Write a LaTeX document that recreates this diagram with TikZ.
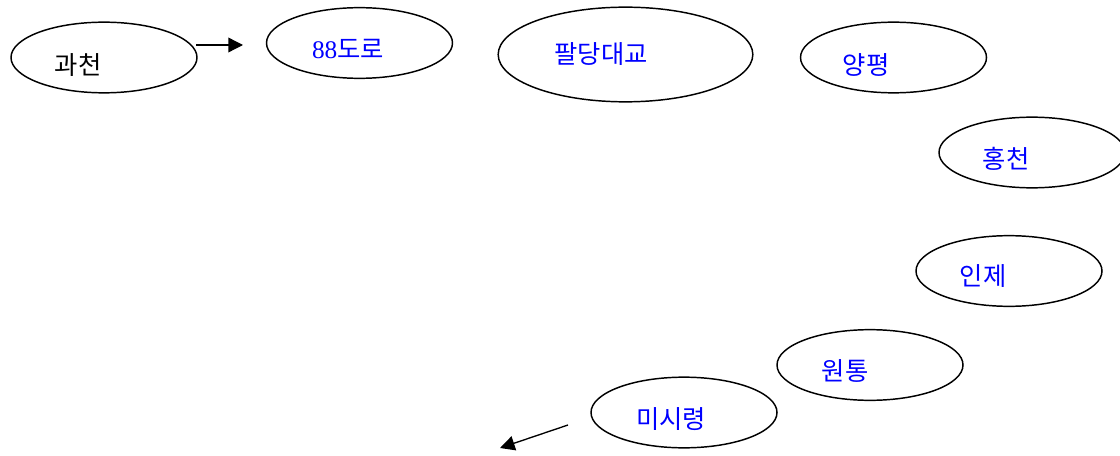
\documentclass[tikz,border=0pt]{standalone}
\usepackage{fontspec}
\setmainfont{Liberation Serif}
\newfontfamily\kor{Noto Sans CJK KR}
\usepackage{tikz}
\usetikzlibrary{arrows.meta,positioning,shapes.geometric,calc}

\tikzset{
    town/.style={draw, ellipse, line width=1.1pt, inner sep=0pt,
        minimum width=139.5pt, minimum height=53pt},
    place/.style={text=blue, inner sep=0pt, font=\kor\fontsize{19}{22}\selectfont},
    route/.style={-{Triangle[length=11pt,width=11pt]}, line width=1pt}
}

\begin{document}
\begin{tikzpicture}[x=0.75pt, y=-0.75pt]
    \useasboundingbox (0,0) rectangle (1120,456);

    % Ellipses
    \node[town] (gwacheon) at (104,57.5) {};
    \node[town] (road88) at (359.5,43) {};
    \node[town, minimum width=191pt, minimum height=71pt] (paldang) at (625.5,54.5) {};
    \node[town] (yangpyeong) at (893.5,57.5) {};
    \node[town] (hongcheon) at (1032,152.5) {};
    \node[town] (inje) at (1009,271) {};
    \node[town] (wontong) at (870,365) {};
    \node[town] (misiryeong) at (684,412.5) {};

    % Place names
    \node[place, text=black] (gwacheonT) at (78,65) {과천};
    \node[place] (road88T) at (348,49) {{\rmfamily 88}도로};
    \node[place] (paldangT) at (601,54) {팔당대교};
    \node[place] (yangpyeongT) at (866,65) {양평};
    \node[place] (hongcheonT) at (1006,159) {홍천};
    \node[place] (injeT) at (983,276) {인제};
    \node[place] (wontongT) at (845,371) {원통};
    \node[place] (misiryeongT) at (671,419) {미시령};

    % Arrows
    \coordinate (a1) at (196,45);
    \coordinate (b1) at (243,45);
    \coordinate (a2) at (568,425);
    \coordinate (b2) at (500,448);
    \draw[route] (a1) -- (b1);
    \draw[route] (a2) -- (b2);

\end{tikzpicture}
\end{document}
